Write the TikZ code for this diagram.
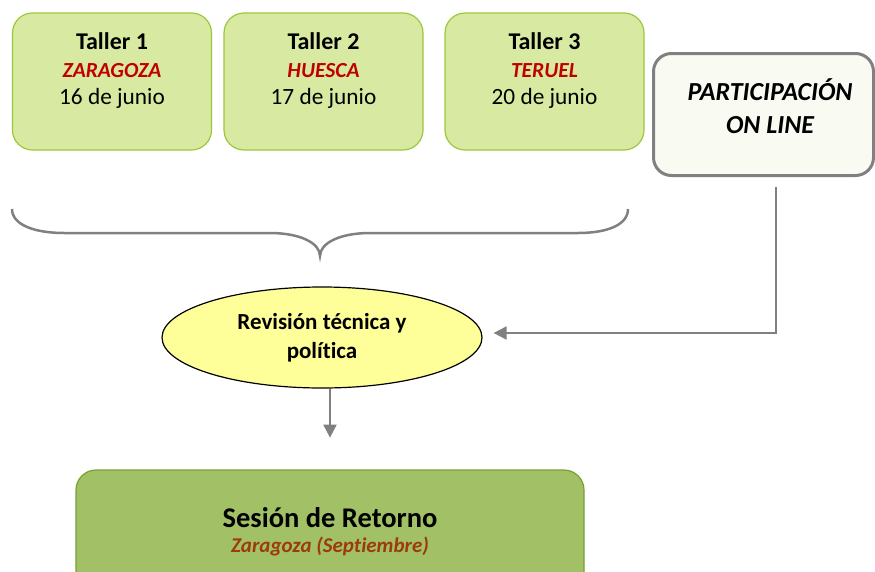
\documentclass[tikz,border=0pt]{standalone}
\usepackage{fontspec}
\setmainfont{Carlito}[Ligatures=NoCommon]
\usetikzlibrary{shapes.geometric,arrows.meta,calc}
\definecolor{tfill}{HTML}{D8EAA2}
\definecolor{tdraw}{HTML}{9BC83A}
\definecolor{tred}{HTML}{C00000}
\definecolor{pfill}{HTML}{F9FAF2}
\definecolor{gline}{HTML}{808080}
\definecolor{efill}{HTML}{FFFF99}
\definecolor{sfill}{HTML}{A2C167}
\definecolor{sdraw}{HTML}{76A22F}
\definecolor{sbrown}{HTML}{9C3B0B}
\newcommand{\tlA}{\fontsize{24}{27.5}\selectfont\bfseries}
\newcommand{\tlB}{\fontsize{21.5}{27.5}\selectfont\bfseries\itshape\color{tred}}
\newcommand{\tlC}{\fontsize{23.3}{27.5}\selectfont}
\begin{document}
\begin{tikzpicture}[x=1pt,y=-1pt,
  tallerbox/.style={draw=tdraw,line width=1.2pt,fill=tfill,rounded corners=20pt,minimum width=199pt,minimum height=137pt,inner sep=0pt},
  ttext/.style={align=center,inner sep=0pt,font=\fontsize{23.3}{27.5}\selectfont},
  partbox/.style={draw=gline,line width=3pt,fill=pfill,rounded corners=18pt,minimum width=220pt,minimum height=122pt,inner sep=0pt},
  revell/.style={ellipse,draw=black,line width=1.2pt,fill=efill,minimum width=320pt,minimum height=101pt,inner sep=0pt},
  sesbox/.style={draw=sdraw,line width=1.2pt,fill=sfill,rounded corners=20pt,minimum width=508pt,minimum height=124pt,inner sep=0pt},
  conn/.style={draw=gline,line width=2pt,-{Triangle[length=13pt,width=13pt]}},
  brace/.style={draw=gline,line width=2.5pt}]
\useasboundingbox (0,0) rectangle (875,571);

\node[tallerbox] (t1) at (112,81.5) {};
\node[ttext] (t1txt) at (112,71) {{\tlA Taller 1}\\{\tlB ZARAGOZA}\\{\tlC 16 de junio}};
\node[tallerbox] (t2) at (323.5,81.5) {};
\node[ttext] (t2txt) at (323.5,71) {{\tlA Taller 2}\\{\tlB HUESCA}\\{\tlC 17 de junio}};
\node[tallerbox] (t3) at (544.5,81.5) {};
\node[ttext] (t3txt) at (544.5,71) {{\tlA Taller 3}\\{\tlB TERUEL}\\{\tlC 20 de junio}};

\node[partbox] (part) at (763.5,114.5) {};
\node[align=center,inner sep=0pt,font=\fontsize{26}{33}\selectfont\bfseries\itshape] (parttxt) at (770,106.5) {PARTICIPACIÓN\\ON LINE};

\draw[brace] (12,209) .. controls (12,225) and (35,233) .. (64,233) -- (270,233) .. controls (300,233) and (320,243) .. (320,256) .. controls (320,243) and (340,233) .. (370,233) -- (578,233) .. controls (607,233) and (628,225) .. (628,209);

\node[revell] (rev) at (322,337.5) {};
\node[align=center,inner sep=0pt,font=\fontsize{23}{29}\selectfont\bfseries] (revtxt) at (322,337.5) {Revisión técnica y\\política};

\node[sesbox] (ses) at (330,532) {};
\node[inner sep=0pt,font=\fontsize{28.5}{30}\selectfont\bfseries] (sestxt) at (330,518) {Sesión de Retorno};
\node[inner sep=0pt,font=\fontsize{21}{24}\selectfont\bfseries\itshape,text=sbrown] (sessub) at (330,546) {Zaragoza (Septiembre)};

\coordinate (pstart) at ($(part.south)+(12.5,10)$);
\coordinate (ptarget) at ($(rev.east)+(11,-4.5)$);
\draw[conn] (pstart) |- (ptarget);
\coordinate (rstart) at ($(rev.south)+(8,0)$);
\coordinate (rend) at ($(rev.south)+(8,49)$);
\draw[conn] (rstart) -- (rend);
\end{tikzpicture}
\end{document}
